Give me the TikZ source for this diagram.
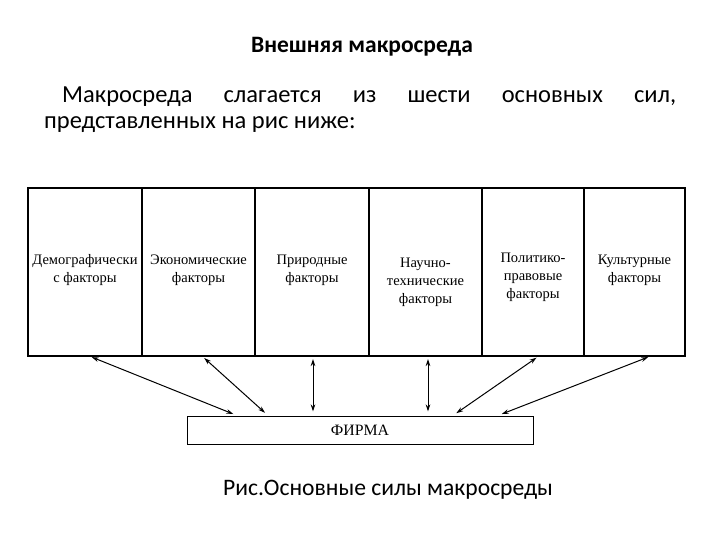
\documentclass[tikz,border=0pt]{standalone}
\usepackage{fontspec}
\setmainfont{Carlito}
\newfontfamily\tnr{Liberation Serif}
\usetikzlibrary{arrows.meta,positioning}
\begin{document}
\begin{tikzpicture}[x=1pt,y=-1pt,
  col/.style={draw,line width=1.1pt,minimum height=168pt,inner sep=0pt,outer sep=0pt,anchor=north west},
  lbl/.style={font=\tnr\fontsize{14.5}{18}\selectfont,align=center,inner sep=0pt},
  arr/.style={{Stealth[length=7pt,width=4.5pt]}-{Stealth[length=7pt,width=4.5pt]},line width=1pt,shorten <=3pt,shorten >=4pt},
  body/.style={font=\fontsize{24.5}{28}\selectfont,inner sep=0pt,anchor=base west}]
\useasboundingbox (0,0) rectangle (720,540);
\node[font=\bfseries\fontsize{23.5}{26}\selectfont,inner sep=0pt] (title) at (362,47) {Внешняя макросреда};
\node[body] (p1) at (62,103) {\hbox to 614pt{Макросреда\hfill слагается\hfill из\hfill шести\hfill основных\hfill сил,}};
\node[body] (p2) at (44,129) {представленных на рис ниже:};
\node[col,minimum width=114pt] (c1) at (28,188) {};
\node[col,minimum width=113pt] (c2) at (142,188) {};
\node[col,minimum width=114pt] (c3) at (255,188) {};
\node[col,minimum width=113pt] (c4) at (369,188) {};
\node[col,minimum width=102pt] (c5) at (482,188) {};
\node[col,minimum width=101pt] (c6) at (584,188) {};
\node[lbl] (t1) at (85,270) {Демографически\\с факторы};
\node[lbl] (t2) at (198.5,270) {Экономические\\факторы};
\node[lbl] (t3) at (312,270) {Природные\\факторы};
\node[lbl] (t4) at (425.5,282) {Научно-\\технические\\факторы};
\node[lbl] (t5) at (533,277) {Политико-\\правовые\\факторы};
\node[lbl] (t6) at (634.5,270) {Культурные\\факторы};
\node[draw,line width=1pt,minimum width=346pt,minimum height=28pt,inner sep=0pt,font=\tnr\fontsize{15.8}{18}\selectfont] (firm) at (360,430) {ФИРМА};
\draw[arr] ([xshift=4pt]c1.south) -- ([xshift=-123pt]firm.north);
\draw[arr] ([xshift=3.5pt]c2.south) -- ([xshift=-92pt]firm.north);
\draw[arr] ([xshift=1pt]c3.south) -- ([xshift=-47pt]firm.north);
\draw[arr] ([xshift=2.5pt]c4.south) -- ([xshift=68pt]firm.north);
\draw[arr] ([xshift=6pt]c5.south) -- ([xshift=93pt]firm.north);
\draw[arr] ([xshift=16.5pt]c6.south) -- ([xshift=138pt]firm.north);
\node[font=\fontsize{23.6}{26}\selectfont,inner sep=0pt] (cap) at (388,490) {Рис.Основные силы макросреды};
\end{tikzpicture}
\end{document}
